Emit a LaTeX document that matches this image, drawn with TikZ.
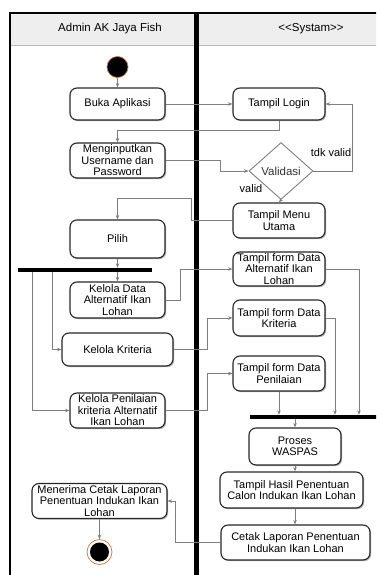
\documentclass[tikz,border=0pt]{standalone}
\usepackage{fontspec}
\setmainfont{Liberation Sans}
\usetikzlibrary{shapes.geometric,arrows.meta,shadows,calc}
\definecolor{edgegray}{HTML}{7F7F7F}
\definecolor{rimorange}{HTML}{C9743C}
\definecolor{headgray}{HTML}{EEEEEE}
\begin{document}
\begin{tikzpicture}[x=1pt,y=-1pt,
  act/.style={draw=black!85, line width=1.1pt, rounded corners=7pt, fill=white, align=center,
    inner sep=1pt, font=\fontsize{11}{11.5}\selectfont,
    drop shadow={opacity=0.3, shadow xshift=1.2pt, shadow yshift=-1.2pt, fill=black}},
  conn/.style={draw=edgegray, line width=0.7pt, -{Stealth[length=4.5pt,width=3.5pt]}},
  bar/.style={fill=black, draw=none, inner sep=0pt},
  lbl/.style={font=\fontsize{11}{11.5}\selectfont, inner sep=0pt},
  hdr/.style={font=\fontsize{11.5}{12}\selectfont, inner sep=0pt},
]
\useasboundingbox (0,0) rectangle (376,575);
\begin{scope}
\clip (0,0) rectangle (376,575);
% swimlane frame
\fill[headgray] (10,13) rectangle (380,45);
\draw[gray!55, line width=0.6pt] (10,45) -- (380,45);
\draw[line width=2pt] (10,13) -- (380,13);
\draw[line width=2.5pt] (10,12) -- (10,580);
\fill[black] (193.5,12) rectangle (198.5,580);
\node[hdr] (h1) at (110,29) {Admin AK Jaya Fish};
\node[hdr] (h2) at (311,29) {<\kern0pt<Systam>\kern0pt>};

% nodes
\node[circle, fill=black, draw=rimorange, line width=0.7pt, minimum size=21pt, inner sep=0pt] (start) at (117.5,67) {};
\node[act, minimum width=95pt, minimum height=32pt] (buka) at (117.5,104) {Buka Aplikasi};
\node[act, minimum width=92pt, minimum height=32pt] (login) at (279,104) {Tampil Login};
\node[act, minimum width=95pt, minimum height=35pt] (input) at (117.5,160.5) {Menginputkan\\Username dan\\Password};
\node[diamond, draw=edgegray, line width=0.9pt, fill=white, minimum width=64pt, minimum height=57pt, inner sep=0pt, font=\fontsize{11.5}{12}\selectfont, text=black!80] (valid) at (281,171) {Validasi};
\node[act, minimum width=92pt, minimum height=35pt] (menu) at (279,220.5) {Tampil Menu\\Utama};
\node[act, minimum width=95pt, minimum height=38pt] (pilih) at (117.5,239) {Pilih};
\node[bar, minimum width=134pt, minimum height=4pt] (fork) at (85,270) {};
\node[act, minimum width=95pt, minimum height=36pt] (kdata) at (117.5,300) {Kelola Data\\Alternatif Ikan\\Lohan};
\node[act, minimum width=111pt, minimum height=33pt] (kkrit) at (117.5,349.5) {Kelola Kriteria};
\node[act, minimum width=95pt, minimum height=35pt] (kpen) at (117.5,410.5) {Kelola Penilaian\\kriteria Alternatif\\Ikan Lohan};
\node[act, minimum width=92pt, minimum height=34pt] (falt) at (279,269) {Tampil form Data\\Alternatif Ikan\\Lohan};
\node[act, minimum width=92pt, minimum height=36pt] (fkrit) at (279,318) {Tampil form Data\\Kriteria};
\node[act, minimum width=92pt, minimum height=35pt] (fpen) at (279,373.5) {Tampil form Data\\Penilaian};
\node[bar, minimum width=130pt, minimum height=4pt] (join) at (315,417) {};
\node[act, minimum width=92pt, minimum height=37pt] (proses) at (295,446.5) {Proses\\WASPAS};
\node[act, minimum width=143pt, minimum height=36pt] (hasil) at (291.5,490) {Tampil Hasil Penentuan\\Calon Indukan Ikan Lohan};
\node[act, minimum width=149pt, minimum height=35pt] (cetak) at (295.5,542.5) {Cetak Laporan Penentuan\\Indukan Ikan Lohan};
\node[act, minimum width=135pt, minimum height=35pt] (terima) at (99.5,501) {Menerima Cetak Laporan\\Penentuan Indukan Ikan\\Lohan};
\node[circle, draw=rimorange, line width=0.7pt, fill=white, minimum size=25pt, inner sep=0pt] (endn) at (99.5,552) {};
\node[circle, fill=black, minimum size=19pt, inner sep=0pt] (endcore) at (endn.center) {};

% labels
\node[lbl] (ltdk) at (331,153) {tdk valid};
\node[lbl] (lval) at (251,189) {valid};

% connectors
\draw[conn] (start) -- (buka);
\draw[conn] (buka) -- (login);
\draw[conn] (login.south) -- (login.south |- 0,130) -| (input.north);
\draw[conn] (input.east) -- (input.east -| 220,0) |- (valid.west);
\draw[conn] (valid.east) -- (valid.east -| 352,0) |- (login.east);
\draw[conn] (valid.south) -- (menu.north);
\draw[conn] (menu.west) -- (menu.west -| 191,0) -- (191,198) -| (pilih.north);
\draw[conn] (pilih.south) -- (pilih.south |- fork.north);
\draw[conn] (kdata.north |- fork.south) -- (kdata.north);
\draw[conn] (fork.south -| 52,0) |- (kkrit.west);
\draw[conn] (fork.south -| 32,0) |- (kpen.west);
\draw[conn] (kdata.east) -- (kdata.east -| 180,0) |- (falt.west);
\draw[conn] (kkrit.east) -- (kkrit.east -| 207,0) |- (fkrit.west);
\draw[conn] (kpen.east) -- (kpen.east -| 207,0) |- (fpen.west);
\draw[conn] (fpen.south) -- (fpen.south |- join.north);
\draw[conn] (fkrit.east) -| (join.north -| 335,0);
\draw[conn] (falt.east) -| (join.north -| 359,0);
\draw[conn] (join.south -| proses.north) -- (proses.north);
\draw[conn] (proses.south) -- (proses.south |- hasil.north);
\draw[conn] (hasil.south -| proses.south) -- (cetak.north -| proses.south);
\draw[conn] (cetak.west) -- (cetak.west -| 175,0) |- (terima.east);
\draw[conn] (terima.south) -- (endn.north);
\end{scope}
\end{tikzpicture}
\end{document}
